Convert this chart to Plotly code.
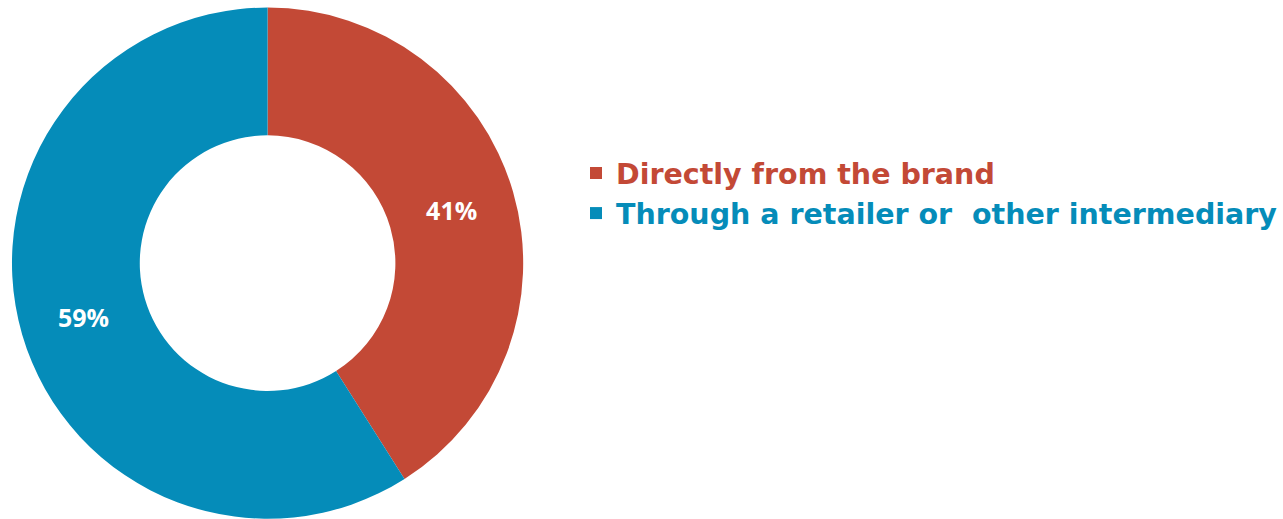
import plotly.graph_objects as go

labels = ["Directly from the brand", "Through a retailer or  other intermediary"]
values = [41, 59]
colors = ["#C34936", "#058CB9"]

legend_labels = [
    f"<span style='color:{c}'>{l.replace('  ', '&nbsp; ')}</span>" for l, c in zip(labels, colors)
]

fig = go.Figure(
    go.Pie(
        labels=legend_labels,
        values=values,
        hole=0.5,
        sort=False,
        direction="clockwise",
        rotation=0,
        marker=dict(colors=colors, line=dict(width=0)),
        textinfo="percent",
        texttemplate="%{percent:.0%}",
        textposition="inside",
        insidetextorientation="horizontal",
        textfont=dict(family="Open Sans", size=25, color="white", weight=700),
        domain=dict(x=[12 / 1283, 524 / 1283], y=[0, 0.986]),
        hoverinfo="label+percent",
    )
)

fig.update_layout(
    width=1283,
    height=519,
    margin=dict(l=0, r=0, t=0, b=0),
    paper_bgcolor="white",
    plot_bgcolor="white",
    showlegend=True,
    legend=dict(
        x=577 / 1283,
        y=1 - 148 / 519,
        xanchor="left",
        yanchor="top",
        font=dict(family="DejaVu Sans", size=28.5, weight=700),
        itemwidth=30,
        tracegroupgap=0,
        bgcolor="rgba(0,0,0,0)",
    ),
)

fig.write_html("out.html")
